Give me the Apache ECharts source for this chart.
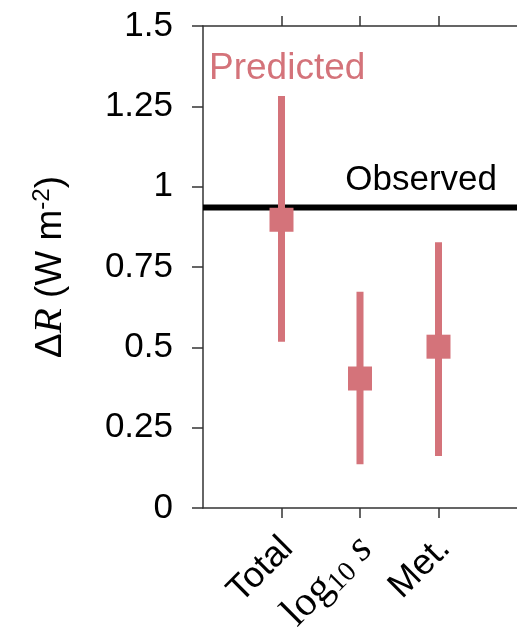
<!DOCTYPE html>
<html>
<head>
<meta charset="utf-8">
<script src="https://cdn.jsdelivr.net/npm/echarts@6/dist/echarts.min.js"></script>
<style>html,body{margin:0;padding:0;background:#fff}#c{width:517px;height:628px}</style>
</head>
<body>
<div id="c"></div>
<script>
const categories = ['Total', 'log10 s', 'Met.'];
const xPositions = [1, 2, 3];
const predictedCenter = [0.897, 0.403, 0.502];
const predictedLow = [0.517, 0.136, 0.162];
const predictedHigh = [1.282, 0.673, 0.827];
const observedValue = 0.935;
const yTickValues = [0, 0.25, 0.5, 0.75, 1, 1.25, 1.5];

const PINK = '#d4737a';
const AX = '#333';
const FONT = 'Liberation Sans';

const chart = echarts.init(document.getElementById('c'), null, {renderer: 'canvas'});

const errData = xPositions.map((x, i) => [x, predictedLow[i], predictedHigh[i], predictedCenter[i]]);

const labelFor = v => {
  const i = xPositions.indexOf(v);
  if (i === 1) return '{serif|log}{sub|10}{it| s}';
  return i >= 0 ? categories[i] : '';
};

const xCommon = {
  type: 'value', min: 0, max: 4, interval: 1,
  splitLine: {show: false},
  axisLine: {show: true, onZero: false, lineStyle: {color: AX, width: 1.5}},
  axisTick: {show: true, length: 10, customValues: xPositions, lineStyle: {color: AX, width: 1.5}}
};

chart.setOption({
  animation: false,
  grid: {left: 203, right: 0, top: 26, bottom: 120, containLabel: false, outerBoundsMode: 'none'},
  xAxis: [
    Object.assign({}, xCommon, {
      position: 'bottom',
      axisLabel: {
        show: true, customValues: xPositions, rotate: 45, margin: 29,
        padding: [17, 0, 0, 0],
        fontFamily: FONT, fontSize: 36, color: '#000',
        formatter: labelFor,
        rich: {
          serif: {fontFamily: 'Liberation Serif', fontSize: 42, color: '#000'},
          sub: {fontFamily: 'Liberation Serif', fontSize: 28, color: '#000', verticalAlign: 'bottom', padding: [16, 0, 0, 0]},
          it: {fontFamily: 'Liberation Serif', fontStyle: 'italic', fontSize: 42, color: '#000'}
        }
      }
    }),
    Object.assign({}, xCommon, {position: 'top', axisLabel: {show: false}})
  ],
  yAxis: {
    type: 'value', min: 0, max: 1.5, interval: 0.25,
    splitLine: {show: false},
    axisLine: {show: true, lineStyle: {color: AX, width: 1.5}},
    axisTick: {show: true, length: 11, lineStyle: {color: AX, width: 1.5}},
    axisLabel: {
      margin: 30, fontFamily: FONT, fontSize: 35, color: '#000',
      customValues: yTickValues,
      formatter: v => String(v)
    },
    name: '{d|Δ}{r|R}{n| (W m}{sup|-2}{n|)}',
    nameLocation: 'middle',
    nameGap: 132,
    nameTextStyle: {
      fontFamily: FONT, fontSize: 37, color: '#000',
      rich: {
        d: {fontFamily: FONT, fontSize: 37, color: '#000'},
        r: {fontFamily: 'Liberation Serif', fontStyle: 'italic', fontSize: 41, color: '#000'},
        n: {fontFamily: FONT, fontSize: 37, color: '#000'},
        sup: {fontFamily: FONT, fontSize: 24, color: '#000', verticalAlign: 'top', padding: [0, 0, 15, 0]}
      }
    }
  },
  graphic: [
    {type: 'text', left: 209, top: 50, z: 10,
     style: {text: 'Predicted', fill: PINK, font: '37px "Liberation Sans"'}},
    {type: 'text', right: 20, top: 163, z: 10,
     style: {text: 'Observed', fill: '#000', font: '35px "Liberation Sans"'}}
  ],
  series: [
    {
      type: 'line', z: 1, xAxisIndex: 0, symbol: 'none', silent: true,
      data: [[0, observedValue], [4, observedValue]],
      lineStyle: {color: '#000', width: 6}
    },
    {
      type: 'custom', z: 5, xAxisIndex: 0,
      data: errData,
      renderItem: (params, api) => {
        const x = api.value(0);
        const lo = api.coord([x, api.value(1)]);
        const hi = api.coord([x, api.value(2)]);
        const c = api.coord([x, api.value(3)]);
        const s = 24;
        return {
          type: 'group',
          children: [
            {type: 'line', shape: {x1: lo[0], y1: lo[1], x2: hi[0], y2: hi[1]}, style: {stroke: PINK, lineWidth: 7}},
            {type: 'rect', shape: {x: c[0] - s / 2, y: c[1] - s / 2, width: s, height: s}, style: {fill: PINK}}
          ]
        };
      }
    }
  ]
});
</script>
</body>
</html>
